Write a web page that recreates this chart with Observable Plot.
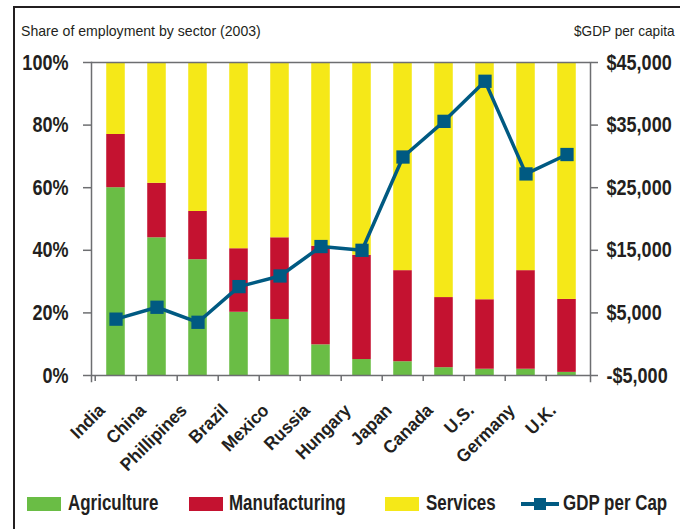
<!DOCTYPE html>
<html><head><meta charset="utf-8">
<script src="https://cdn.jsdelivr.net/npm/d3@7"></script>
<script src="https://cdn.jsdelivr.net/npm/@observablehq/plot@0.6"></script>
<style>
body{margin:0;background:#fff;}
#wrap{position:relative;width:680px;height:529px;overflow:hidden;font-family:"Liberation Sans",Arial,sans-serif;color:#231f20;}
#border{position:absolute;left:13px;top:6px;width:700px;height:600px;border-left:2px solid #231f20;border-top:2px solid #231f20;}
.cond{display:inline-block;white-space:nowrap;}
#title{position:absolute;left:21px;top:22px;font-size:15px;transform:scaleX(0.94);transform-origin:left center;}
#subtitle{position:absolute;right:5px;top:22px;font-size:15px;transform:scaleX(0.91);transform-origin:right center;}
#chart{position:absolute;left:0;top:0;}
.lg{position:absolute;top:490px;height:26px;font-size:22px;font-weight:bold;white-space:nowrap;line-height:26px;}
.sw{position:absolute;top:497px;height:14px;}
g[aria-label="y-axis tick"]{stroke:#6d6e71;stroke-width:1.5;}
</style>
</head><body>
<div id="wrap">
  <div id="border"></div>
  <div id="title">Share of employment by sector (2003)</div>
  <div id="subtitle">$GDP per capita</div>
  <div id="chart"></div>
</div>
<script>
const countries = ["India","China","Phillipines","Brazil","Mexico","Russia","Hungary","Japan","Canada","U.S.","Germany","U.K."];
const sectors = ["Agriculture","Manufacturing","Services"];
const sectorColors = ["#6abd45","#c41230","#f5e818"];
const agriculture   = [60, 44, 37, 20.2, 17.9, 9.8, 5.1, 4.4, 2.5, 2.0, 2.0, 1.0];
const manufacturing = [17, 17.4, 15.4, 20.3, 26.1, 31.5, 33.3, 29.1, 22.4, 22.2, 31.5, 23.3];
const services      = [23, 38.6, 47.6, 59.5, 56, 58.7, 61.6, 66.5, 75.1, 75.8, 66.5, 75.7];
const gdpPerCap     = [4000, 5900, 3500, 9200, 10900, 15600, 15000, 29900, 35600, 42000, 27200, 30300];
const pctTicks = [0, 20, 40, 60, 80, 100];
const gdpTicks = [-5000, 5000, 15000, 25000, 35000, 45000];
const lineName = "GDP per Cap";
const lineColor = "#005a82";
const axisGray = "#6d6e71";

const gdpMin = gdpTicks[0], gdpMax = gdpTicks[gdpTicks.length - 1];
const toY = g => (g - gdpMin) / (gdpMax - gdpMin) * 100;
const fmtGdp = v => (v < 0 ? "-" : "") + "$" + d3.format(",")(Math.abs(v));

const series = [agriculture, manufacturing, services];
const rows = [];
countries.forEach((c, i) => sectors.forEach((s, j) => rows.push({country: c, sector: s, value: series[j][i]})));
const gdpRows = countries.map((c, i) => ({country: c, gdp: gdpPerCap[i]}));

const W = 680, H = 460, mL = 91, mR = 90, mT = 62, mB = 85;
const bw = (W - mL - mR) / countries.length;
const font = '"Liberation Sans",Arial,sans-serif';

const chart = Plot.plot({
  width: W, height: H, marginTop: mT, marginBottom: mB, marginLeft: mL, marginRight: mR,
  style: {fontFamily: font, color: "#231f20", background: "transparent", overflow: "visible"},
  x: {domain: countries, padding: 0, axis: null},
  y: {domain: [0, 100], axis: null},
  color: {domain: sectors, range: sectorColors},
  marks: [
    Plot.barY(rows, {x: "country", y: "value", fill: "sector", order: sectors, insetLeft: bw * 0.27, insetRight: bw * 0.27}),
    Plot.ruleY([0, 100], {stroke: axisGray, strokeWidth: 1.5}),
    Plot.frame({anchor: "left", insetBottom: -6, stroke: axisGray, strokeWidth: 1.5}),
    Plot.frame({anchor: "right", insetBottom: -6, stroke: axisGray, strokeWidth: 1.5}),
    Plot.tickX(countries, {x: d => d, dx: -bw / 2, insetTop: H - mT - mB, insetBottom: -6, stroke: axisGray, strokeWidth: 1.5}),
    Plot.axisY({anchor: "left", label: null, ticks: pctTicks, tickFormat: d => d + "%", tickSize: 8, tickPadding: 15, fontSize: 22, fontWeight: "bold"}),
    Plot.axisY({anchor: "right", label: null, ticks: gdpTicks.map(toY), tickFormat: d => fmtGdp(Math.round(d / 100 * (gdpMax - gdpMin) + gdpMin)), tickSize: 7, tickPadding: 9, fontSize: 22, fontWeight: "bold"}),
    Plot.line(gdpRows, {x: "country", y: d => toY(d.gdp), stroke: lineColor, strokeWidth: 3.5}),
    Plot.dot(gdpRows, {x: "country", y: d => toY(d.gdp), symbol: "square", r: 7.5, fill: lineColor}),
    Plot.text(countries, {x: d => d, text: d => d, frameAnchor: "bottom", rotate: -45, textAnchor: "end", dx: -10, dy: 36, fontSize: 18, fontWeight: "bold", fill: "#231f20"})
  ]
});
// condense the glyphs horizontally (reference uses a condensed bold face)
chart.querySelectorAll("text").forEach(t => {
  const k = t.closest('g[aria-label="y-axis tick label"]') ? 0.82 : 0.95;
  const tr = t.getAttribute("transform") || "";
  t.setAttribute("transform", tr + ` scale(${k},1)`);
});
document.getElementById("chart").appendChild(chart);

// legend
const wrap = document.getElementById("wrap");
const swLeft = [27, 189, 385, 521];
const txLeft = [68, 229, 426, 563];
const legendNames = [...sectors, lineName];
legendNames.forEach((name, i) => {
  let sw;
  if (i < sectors.length) {
    sw = document.createElement("div");
    sw.className = "sw";
    sw.style.left = swLeft[i] + "px";
    sw.style.width = "34px";
    sw.style.background = sectorColors[i];
  } else {
    sw = document.createElementNS("http://www.w3.org/2000/svg", "svg");
    sw.setAttribute("width", 38); sw.setAttribute("height", 16);
    sw.style.position = "absolute"; sw.style.left = swLeft[i] + "px"; sw.style.top = "496px";
    sw.innerHTML = `<line x1="0" y1="8" x2="38" y2="8" stroke="${lineColor}" stroke-width="4"/><rect x="13" y="2" width="12" height="12" fill="${lineColor}"/>`;
  }
  wrap.appendChild(sw);
  const tx = document.createElement("div");
  tx.className = "lg";
  tx.style.left = txLeft[i] + "px";
  tx.style.transform = "scaleX(0.77)";
  tx.style.transformOrigin = "left center";
  tx.textContent = name;
  wrap.appendChild(tx);
});
</script>
</body></html>
